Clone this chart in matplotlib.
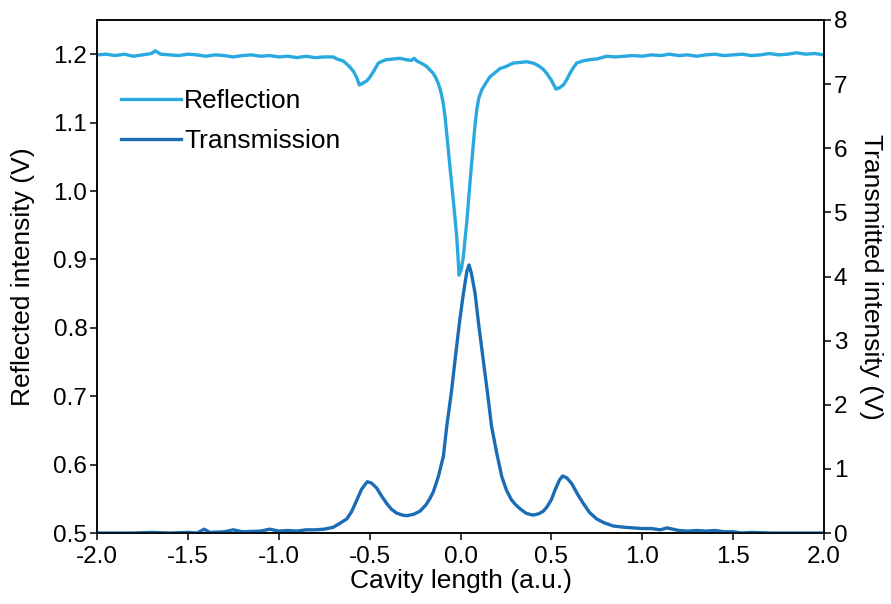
import matplotlib
matplotlib.use('Agg')
import matplotlib.pyplot as plt

plt.rcParams['font.family'] = ['Liberation Sans', 'DejaVu Sans']

# reflection signal (V) vs cavity length
refl_x = [-2.00, -1.95, -1.90, -1.85, -1.80, -1.75, -1.70, -1.68, -1.65, -1.60,
          -1.55, -1.50, -1.45, -1.40, -1.35, -1.30, -1.25, -1.20, -1.15, -1.10,
          -1.05, -1.00, -0.95, -0.90, -0.85, -0.80, -0.75, -0.70, -0.68, -0.645,
          -0.615, -0.589, -0.570, -0.557, -0.535, -0.516, -0.50, -0.48, -0.452, -0.43,
          -0.406, -0.37, -0.333, -0.30, -0.27, -0.255, -0.24, -0.21, -0.186, -0.168,
          -0.15, -0.135, -0.122, -0.108, -0.095, -0.085, -0.076, -0.067, -0.058, -0.049,
          -0.040, -0.030, -0.021, -0.014, -0.008, 0.004, 0.016, 0.025, 0.034, 0.043,
          0.052, 0.061, 0.071, 0.080, 0.089, 0.100, 0.117, 0.140, 0.162, 0.19,
          0.217, 0.25, 0.29, 0.33, 0.364, 0.40, 0.43, 0.455, 0.474, 0.50,
          0.525, 0.545, 0.566, 0.585, 0.602, 0.62, 0.639, 0.67, 0.712, 0.75,
          0.804, 0.85, 0.90, 0.95, 1.00, 1.05, 1.10, 1.15, 1.20, 1.25,
          1.30, 1.35, 1.40, 1.45, 1.50, 1.55, 1.60, 1.65, 1.70, 1.75,
          1.80, 1.85, 1.90, 1.95, 2.00]
refl_v = [1.199, 1.200, 1.198, 1.200, 1.197, 1.199, 1.201, 1.205, 1.200, 1.199,
          1.198, 1.200, 1.199, 1.197, 1.199, 1.198, 1.196, 1.198, 1.199, 1.197,
          1.198, 1.196, 1.197, 1.195, 1.197, 1.195, 1.196, 1.196, 1.193, 1.190,
          1.183, 1.175, 1.165, 1.155, 1.158, 1.161, 1.166, 1.174, 1.187, 1.190,
          1.192, 1.193, 1.194, 1.192, 1.191, 1.194, 1.190, 1.186, 1.182, 1.177,
          1.172, 1.165, 1.157, 1.145, 1.128, 1.108, 1.084, 1.060, 1.035, 1.011,
          0.987, 0.960, 0.933, 0.905, 0.877, 0.885, 0.905, 0.930, 0.953, 0.983,
          1.012, 1.040, 1.070, 1.097, 1.118, 1.135, 1.148, 1.158, 1.167, 1.173,
          1.179, 1.182, 1.187, 1.188, 1.189, 1.187, 1.183, 1.178, 1.172, 1.162,
          1.149, 1.151, 1.155, 1.163, 1.172, 1.180, 1.187, 1.190, 1.192, 1.193,
          1.197, 1.196, 1.197, 1.198, 1.197, 1.199, 1.198, 1.200, 1.198, 1.199,
          1.197, 1.199, 1.200, 1.198, 1.199, 1.200, 1.198, 1.199, 1.201, 1.199,
          1.200, 1.202, 1.200, 1.201, 1.199]

# transmission signal (V) vs cavity length
trans_x = [-2.00, -1.90, -1.80, -1.70, -1.60, -1.50, -1.45, -1.41, -1.38, -1.30,
           -1.25, -1.20, -1.10, -1.05, -1.00, -0.95, -0.90, -0.85, -0.80, -0.75,
           -0.70, -0.665, -0.626, -0.60, -0.571, -0.545, -0.513, -0.49, -0.461, -0.435,
           -0.406, -0.38, -0.351, -0.32, -0.296, -0.26, -0.223, -0.19, -0.17, -0.15,
           -0.122, -0.094, -0.076, -0.05, -0.030, -0.005, 0.016, 0.035, 0.047, 0.060,
           0.080, 0.100, 0.125, 0.150, 0.171, 0.199, 0.227, 0.254, 0.28, 0.30,
           0.327, 0.36, 0.382, 0.40, 0.43, 0.455, 0.474, 0.50, 0.52, 0.545,
           0.562, 0.585, 0.612, 0.645, 0.676, 0.71, 0.749, 0.79, 0.84, 0.90,
           0.95, 1.00, 1.05, 1.10, 1.136, 1.20, 1.25, 1.30, 1.35, 1.40,
           1.45, 1.50, 1.55, 1.60, 1.70, 1.80, 1.90, 2.00]
trans_v = [0.00, 0.00, 0.00, 0.01, 0.00, 0.01, 0.00, 0.06, 0.01, 0.02,
           0.05, 0.02, 0.03, 0.06, 0.03, 0.04, 0.03, 0.05, 0.05, 0.06,
           0.09, 0.15, 0.22, 0.33, 0.51, 0.68, 0.80, 0.78, 0.70, 0.58,
           0.46, 0.37, 0.31, 0.28, 0.27, 0.29, 0.34, 0.44, 0.53, 0.64,
           0.88, 1.20, 1.66, 2.20, 2.70, 3.30, 3.74, 4.08, 4.18, 4.05,
           3.74, 3.25, 2.70, 2.15, 1.66, 1.25, 0.88, 0.66, 0.52, 0.45,
           0.38, 0.31, 0.29, 0.28, 0.30, 0.34, 0.40, 0.52, 0.67, 0.83,
           0.89, 0.86, 0.77, 0.60, 0.46, 0.32, 0.22, 0.16, 0.11, 0.09,
           0.08, 0.07, 0.07, 0.05, 0.08, 0.04, 0.03, 0.04, 0.03, 0.04,
           0.02, 0.02, 0.00, 0.01, 0.00, 0.00, 0.00, 0.00]

x_ticks = [-2.0, -1.5, -1.0, -0.5, 0.0, 0.5, 1.0, 1.5, 2.0]
refl_ticks = [0.5, 0.6, 0.7, 0.8, 0.9, 1.0, 1.1, 1.2]
trans_ticks = [0, 1, 2, 3, 4, 5, 6, 7, 8]

c_refl = '#2aa9e0'
c_trans = '#1a6db5'
fs_tick = 17.5
fs_lab = 19

fig = plt.figure(figsize=(8.91, 6.04), dpi=100)
ax = fig.add_axes([0.1089, 0.1175, 0.8159, 0.8494])
ax2 = ax.twinx()

l1, = ax.plot(refl_x, refl_v, color=c_refl, lw=2.4, label='Reflection')
l2, = ax2.plot(trans_x, trans_v, color=c_trans, lw=2.4, label='Transmission')

ax.set_xlim(-2.0, 2.0)
ax.set_ylim(0.5, 1.25)
ax2.set_ylim(0, 8)
ax.set_xticks(x_ticks)
ax.set_xticklabels(['%.1f' % t for t in x_ticks])
ax.set_yticks(refl_ticks)
ax.set_yticklabels(['%.1f' % t for t in refl_ticks])
ax2.set_yticks(trans_ticks)

for a in (ax, ax2):
    for s in a.spines.values():
        s.set_linewidth(1.1)
    a.tick_params(direction='out', length=5, width=1.1, labelsize=fs_tick, pad=2)
ax.tick_params(axis='x', pad=4)

ax.set_xlabel('Cavity length (a.u.)', fontsize=fs_lab, labelpad=1)
ax.set_ylabel('Reflected intensity (V)', fontsize=fs_lab, labelpad=13)
ax2.set_ylabel('Transmitted intensity (V)', fontsize=fs_lab, rotation=270, labelpad=26)

ax2.legend([l1, l2], ['Reflection', 'Transmission'], loc='upper left',
           bbox_to_anchor=(0.0, 0.911), frameon=False, fontsize=fs_lab,
           handlelength=2.3, handletextpad=0.1, labelspacing=0.6)

fig.savefig('out.png', dpi=100)
